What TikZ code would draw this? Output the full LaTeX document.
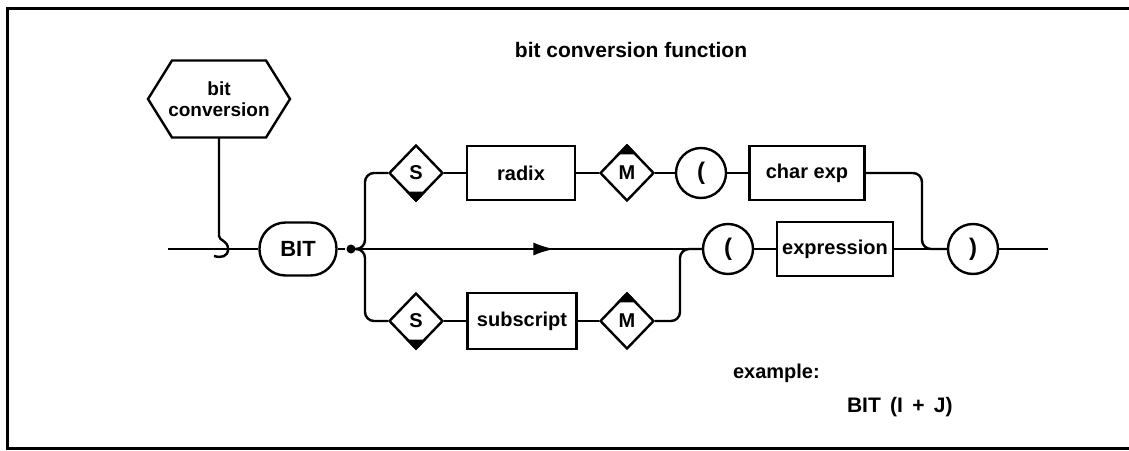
\documentclass[tikz,border=0pt]{standalone}
\usepackage{fontspec}
\setmainfont{Liberation Sans}
\usetikzlibrary{shapes.geometric,calc,decorations.markings,arrows.meta}
\begin{document}
\begin{tikzpicture}[x=1pt,y=-1pt, line width=2.4pt,
  every node/.style={font=\fontsize{20}{24}\selectfont\bfseries},
  box/.style={draw, rectangle, minimum height=54pt, inner sep=0pt},
  dia/.style={draw, diamond, minimum width=54pt, minimum height=56pt, inner sep=0pt},
  circ/.style={draw, circle, minimum size=50pt, inner sep=0pt, font=\fontsize{24}{28}\selectfont\bfseries},
  term/.style={draw, rectangle, rounded corners=26pt, minimum width=77pt, minimum height=53pt, inner sep=0pt, font=\fontsize{22}{26}\selectfont\bfseries},
  conn/.style={rounded corners=9pt},
  plain/.style={inner sep=0pt, outer sep=0pt},
  midarrow/.style={postaction={decorate}, decoration={markings, mark=at position #1 with {\arrow{Latex[length=21pt,width=13pt]}}}}]
\useasboundingbox (0,0) rectangle (1129,450);
% frame
\draw[line width=3pt] (1129,8) -- (7,8) -- (7,448) -- (1129,448);
% title
\node[plain, anchor=base, font=\fontsize{21}{25}\selectfont\bfseries] (title) at (631,57) {bit conversion function};
% hexagon entry
\node[plain, rectangle, minimum width=142pt, minimum height=77pt, align=center,
      font=\fontsize{19}{21}\selectfont\bfseries] (hex) at (219,99) {bit\\conversion};
\draw (hex.west) -- ($(hex.north west)+(24,0)$) -- ($(hex.north east)+(-24,0)$) -- (hex.east)
      -- ($(hex.south east)+(-24,0)$) -- ($(hex.south west)+(24,0)$) -- cycle;
% main row nodes
\coordinate (start) at (168,249);
\node[term] (BIT) at (298,249) {BIT};
\node[circle, fill, inner sep=0pt, minimum size=9pt] (dot) at (351,249) {};
\coordinate (sp) at (365,249);
\node[circ] (LP2) at (728,249) {(};
\node[box, minimum width=116pt] (expr) at (835,249) {expression};
\node[circ] (RP) at (973,249) {)};
\coordinate (exit) at (1048,249);
% top row
\node[dia] (S1) at (416,173) {S};
\node[box, minimum width=108pt] (radix) at (521,173) {radix};
\node[dia] (M1) at (627,173) {M};
\node[circ] (LP1) at (701,173) {(};
\node[box, minimum width=115pt] (cexp) at (807,173) {char exp};
\coordinate (rj) at (922,249);
% bottom row
\node[dia] (S2) at (416,321) {S};
\node[box, minimum width=109pt, minimum height=56pt] (sub) at (522,321) {subscript};
\node[dia] (M2) at (627,321) {M};
\coordinate (bj) at (680,249);
% black corners
\fill ($(S1.south)!0.36!(S1.east)$) -- (S1.south) -- ($(S1.south)!0.36!(S1.west)$) -- cycle;
\fill ($(S2.south)!0.36!(S2.east)$) -- (S2.south) -- ($(S2.south)!0.36!(S2.west)$) -- cycle;
\fill ($(M1.north)!0.36!(M1.east)$) -- (M1.north) -- ($(M1.north)!0.36!(M1.west)$) -- cycle;
\fill ($(M2.north)!0.36!(M2.east)$) -- (M2.north) -- ($(M2.north)!0.36!(M2.west)$) -- cycle;
% entry line with join hook
\coordinate (hk) at (219,236);
\draw (hex.south) -- (hk) .. controls (219,241) and (228,240) .. (228,249)
      .. controls (228,257) and (221,258) .. (214,256);
\draw (start) -- (BIT.west);
\draw (BIT.east) -- (dot);
\draw[midarrow=0.58] (dot.center) -- (LP2.west);
\draw (LP2.east) -- (expr.west);
\draw (expr.east) -- (RP.west);
\draw (RP.east) -- (exit);
% top branch
\draw[conn] (dot.center) -| (sp |- S1.west) -- (S1.west);
\draw (S1.east) -- (radix.west);
\draw (radix.east) -- (M1.west);
\draw (M1.east) -- (LP1.west);
\draw (LP1.east) -- (cexp.west);
\draw[conn] (cexp.east) -| (rj) -- (RP.west);
% bottom branch
\draw[conn] (dot.center) -| (sp |- S2.west) -- (S2.west);
\draw (S2.east) -- (sub.west);
\draw (sub.east) -- (M2.west);
\draw[conn] (M2.east) -| (bj) -- (LP2.west);
% example
\node[plain, anchor=base west] (ex) at (733,378) {example:};
\node[plain, anchor=base west, font=\fontsize{21}{25}\selectfont\bfseries] (exv) at (847,412) {BIT\, (I\, +\, J)};
\end{tikzpicture}
\end{document}
